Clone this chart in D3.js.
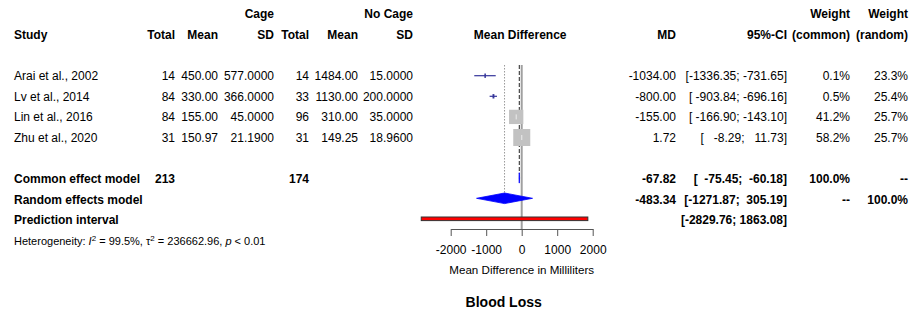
<!DOCTYPE html>
<html>
<head>
<meta charset="utf-8">
<script src="https://cdn.jsdelivr.net/npm/d3@7"></script>
<style>
  body { margin: 0; background: #fff; }
  svg text { font-family: "Liberation Sans", Arial, sans-serif; white-space: pre; }
</style>
</head>
<body>
<svg id="chart" width="917" height="311"></svg>
<script>
// study data
const studies = ["Arai et al., 2002", "Lv et al., 2014", "Lin et al., 2016", "Zhu et al., 2020"];
const cageTotal = [14, 84, 84, 31];
const cageMean = [450.00, 330.00, 155.00, 150.97];
const cageSD = [577, 366, 45, 21.19];
const noCageTotal = [14, 33, 96, 31];
const noCageMean = [1484.00, 1130.00, 310.00, 149.25];
const noCageSD = [15, 200, 35, 18.96];
const md = [-1034.00, -800.00, -155.00, 1.72];
const ciLow = [-1336.35, -903.84, -166.90, -8.29];
const ciHigh = [-731.65, -696.16, -143.10, 11.73];
const weightCommon = [0.1, 0.5, 41.2, 58.2];
const weightRandom = [23.3, 25.4, 25.7, 25.7];

// pooled results
const commonTotals = [213, 174];
const commonMD = -67.82, commonCI = [-75.45, -60.18];
const randomMD = -483.34, randomCI = [-1271.87, 305.19];
const predCI = [-2829.76, 1863.08];
const hetI2 = "99.5%", hetTau2 = "236662.96", hetP = "< 0.01";

const xTicks = [-2000, -1000, 0, 1000, 2000];

const svg = d3.select("#chart");
const x = d3.scaleLinear().domain([-2000, 2000]).range([450.7, 592.7]);
const row = d3.scaleLinear().domain([0, 1]).range([75.7, 96.3]);
const size = d3.scaleSqrt().domain([0, d3.max(weightCommon)]).range([0, 17]);
const lineCol = "#35359a";

const ci = (lo, hi) => `[${lo.toFixed(2).padStart(8)}; ${hi.toFixed(2).padStart(7)}]`;

function txt(xp, k, s, opts = {}) {
  return svg.append("text")
    .attr("x", xp)
    .attr("y", row(k) + 4.3)
    .attr("text-anchor", opts.anchor || "end")
    .style("font-size", (opts.size || 12) + "px")
    .style("font-weight", opts.bold ? "bold" : "normal")
    .text(s);
}

// headers
txt(274, -3, "Cage", { bold: true });
txt(413, -3, "No Cage", { bold: true });
txt(850, -3, "Weight", { bold: true });
txt(908, -3, "Weight", { bold: true });
txt(14, -2, "Study", { bold: true, anchor: "start" });
[[175, "Total"], [218, "Mean"], [274, "SD"], [309, "Total"], [358, "Mean"], [413, "SD"],
 [676, "MD"], [787, "95%-CI"], [850, "(common)"], [908, "(random)"]]
  .forEach(([xp, s]) => txt(xp, -2, s, { bold: true }));
txt(x(0) - 1.5, -2, "Mean Difference", { bold: true, anchor: "middle" });

// study rows
studies.forEach((s, i) => {
  txt(14, i, s, { anchor: "start" });
  txt(175, i, String(cageTotal[i]));
  txt(218, i, cageMean[i].toFixed(2));
  txt(274, i, cageSD[i].toFixed(4));
  txt(309, i, String(noCageTotal[i]));
  txt(358, i, noCageMean[i].toFixed(2));
  txt(413, i, noCageSD[i].toFixed(4));
  txt(676, i, md[i].toFixed(2));
  txt(787, i, ci(ciLow[i], ciHigh[i]));
  txt(850, i, weightCommon[i].toFixed(1) + "%");
  txt(908, i, weightRandom[i].toFixed(1) + "%");
});

// summary rows
txt(14, 5, "Common effect model", { bold: true, anchor: "start" });
txt(175, 5, String(commonTotals[0]), { bold: true });
txt(309, 5, String(commonTotals[1]), { bold: true });
txt(676, 5, commonMD.toFixed(2), { bold: true });
txt(787, 5, ci(commonCI[0], commonCI[1]), { bold: true });
txt(850, 5, "100.0%", { bold: true });
txt(908, 5, "--", { bold: true });

txt(14, 6, "Random effects model", { bold: true, anchor: "start" });
txt(676, 6, randomMD.toFixed(2), { bold: true });
txt(787, 6, ci(randomCI[0], randomCI[1]), { bold: true });
txt(850, 6, "--", { bold: true });
txt(908, 6, "100.0%", { bold: true });

txt(14, 7, "Prediction interval", { bold: true, anchor: "start" });
txt(787, 7, ci(predCI[0], predCI[1]), { bold: true });

// heterogeneity
const het = svg.append("text").attr("x", 14).attr("y", row(8) + 4).style("font-size", "11px");
het.append("tspan").text("Heterogeneity: ");
het.append("tspan").style("font-style", "italic").text("I");
het.append("tspan").attr("dy", -4).style("font-size", "8px").text("2");
het.append("tspan").attr("dy", 4).text(` = ${hetI2}, τ`);
het.append("tspan").attr("dy", -4).style("font-size", "8px").text("2");
het.append("tspan").attr("dy", 4).text(` = ${hetTau2}, `);
het.append("tspan").style("font-style", "italic").text("p");
het.append("tspan").text(` ${hetP}`);

// forest plot
const plotTop = row(0) - 10.7;
const axisY = 229;

svg.append("line")
  .attr("x1", x(0)).attr("x2", x(0)).attr("y1", plotTop).attr("y2", axisY)
  .attr("stroke", "#a0a0a0").attr("stroke-width", 2);

svg.append("line")
  .attr("x1", x(commonMD)).attr("x2", x(commonMD)).attr("y1", plotTop).attr("y2", row(5) - 5.2)
  .attr("stroke", "#222").attr("stroke-dasharray", "4,2");

svg.append("line")
  .attr("x1", x(randomMD)).attr("x2", x(randomMD)).attr("y1", plotTop).attr("y2", row(6) - 5.3)
  .attr("stroke", "#999").attr("stroke-dasharray", "1.5,1.5");

studies.forEach((s, i) => {
  const cy = row(i);
  const side = size(weightCommon[i]);
  svg.append("line")
    .attr("x1", x(ciLow[i])).attr("x2", x(ciHigh[i])).attr("y1", cy).attr("y2", cy)
    .attr("stroke", lineCol).attr("stroke-width", 1.2);
  if (side > 4) {
    svg.append("rect")
      .attr("x", x(md[i]) - side / 2).attr("y", cy - side / 2)
      .attr("width", side).attr("height", side)
      .attr("fill", "#c2c2c2");
    const w = Math.max(x(ciHigh[i]) - x(ciLow[i]), 1);
    svg.append("rect")
      .attr("x", x(md[i]) - w / 2).attr("y", cy - 2.5)
      .attr("width", w).attr("height", 5)
      .attr("fill", "#ececec");
  } else {
    const s2 = Math.max(side, 1.2);
    svg.append("rect")
      .attr("x", x(md[i]) - s2 / 2).attr("y", cy - 2.2)
      .attr("width", s2 + 0.3).attr("height", 4.4)
      .attr("fill", lineCol);
  }
});

// diamonds
function diamond(est, lo, hi, cy, h) {
  svg.append("path")
    .attr("d", `M${x(lo)},${cy}L${x(est)},${cy - h}L${x(hi)},${cy}L${x(est)},${cy + h}Z`)
    .attr("fill", "#0000ff").attr("stroke", "#0000ff").attr("stroke-width", 0.8);
}
diamond(commonMD, commonCI[0], commonCI[1], row(5) - 0.8, 5.2);
diamond(randomMD, randomCI[0], randomCI[1], row(6) - 1, 5.3);

// prediction interval
svg.append("rect")
  .attr("x", x(predCI[0])).attr("y", row(7) - 2.9)
  .attr("width", x(predCI[1]) - x(predCI[0])).attr("height", 3.6)
  .attr("fill", "#ff0000").attr("stroke", "#333").attr("stroke-width", 1);

// axis
const axis = svg.append("g")
  .attr("transform", `translate(0,${axisY})`)
  .call(d3.axisBottom(x).tickValues(xTicks).tickSize(7).tickSizeOuter(0).tickPadding(9).tickFormat(d => String(d)));
axis.select(".domain").attr("stroke", "#555");
axis.selectAll(".tick line").attr("stroke", "#555");
axis.selectAll(".tick text").style("font-size", "12px").style("font-family", "Liberation Sans, Arial, sans-serif").attr("fill", "#000");

svg.append("text")
  .attr("x", x(0)).attr("y", 274.3)
  .attr("text-anchor", "middle")
  .style("font-size", "11.6px")
  .text("Mean Difference in Milliliters");

svg.append("text")
  .attr("x", 503.7).attr("y", 306.7)
  .attr("text-anchor", "middle")
  .style("font-size", "14px").style("font-weight", "bold")
  .text("Blood Loss");
</script>
</body>
</html>
